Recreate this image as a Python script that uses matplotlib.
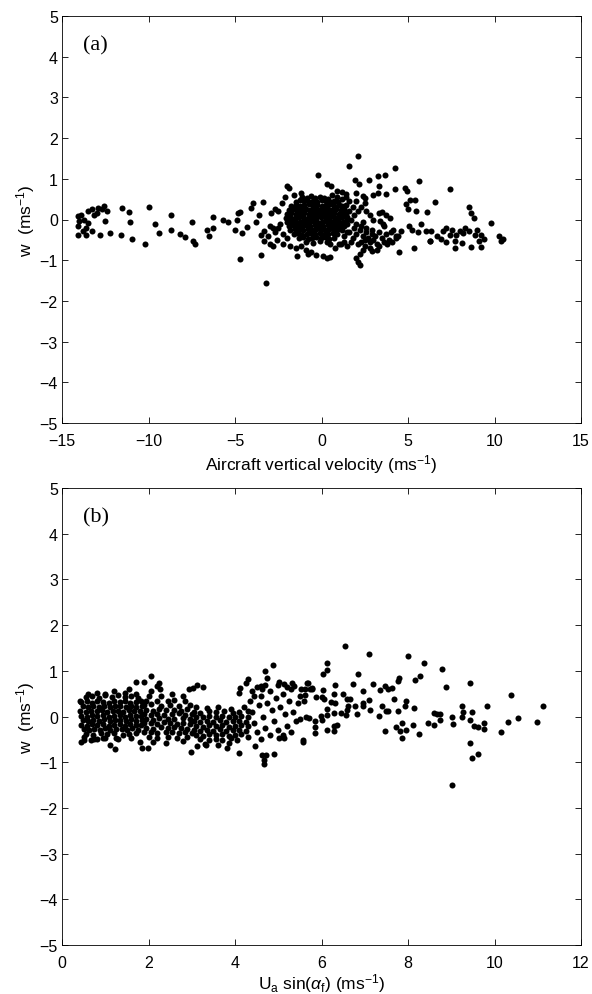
import numpy as np
import matplotlib
matplotlib.use('Agg')
import matplotlib.pyplot as plt

# ---------- panel (a): w vs aircraft vertical velocity ----------
# left tail and scattered points west of the core
a_left = [
    (-14.1, 0.08), (-14.0, -0.04), (-13.9, 0.12), (-14.1, -0.16), (-13.8, -0.29),
    (-13.6, -0.2), (-13.7, 0.0), (-13.5, 0.2), (-13.25, 0.25), (-13.15, 0.12),
    (-13.5, -0.08), (-14.1, -0.37), (-13.6, -0.37), (-13.25, -0.29), (-13.0, 0.16),
    (-12.9, 0.29), (-12.7, 0.25), (-12.6, 0.33), (-12.4, 0.2), (-12.5, -0.04),
    (-12.8, -0.37), (-12.2, -0.33), (-11.6, -0.37), (-11.55, 0.29), (-11.15, 0.19),
    (-11.05, -0.07), (-10.95, -0.47), (-10.2, -0.61), (-10.0, 0.3), (-9.6, -0.1),
    (-9.4, -0.34), (-8.7, 0.1), (-8.7, -0.27), (-8.2, -0.35), (-7.9, -0.43),
    (-7.5, -0.06), (-7.4, -0.53), (-7.3, -0.6), (-6.6, -0.27), (-6.5, -0.40),
    (-6.3, -0.2), (-6.3, 0.07), (-5.7, 0.0), (-5.4, -0.06), (-5.0, -0.25),
    (-4.9, -0.02), (-4.8, 0.16), (-4.7, 0.19), (-4.6, -0.34), (-4.3, -0.19),
    (-4.1, 0.29), (-3.95, 0.41), (-3.8, -0.06), (-3.6, 0.12), (-3.5, -0.37),
    (-3.5, -0.88), (-3.4, 0.42), (-3.3, -0.29), (-3.3, -0.53), (-4.7, -0.96),
    (-3.2, -1.57),
]

# dense core around zero
a_core = [
    (-1.1, 0.55), (-0.85, 0.53), (-0.6, 0.57), (-0.35, 0.54), (-0.1, 0.56), (0.15, 0.52), (0.4, 0.5),
    (-1.5, 0.44), (-1.25, 0.47), (-1.0, 0.45), (-0.75, 0.43), (-0.5, 0.46), (-0.25, 0.44),
    (0.0, 0.47), (0.25, 0.45), (0.5, 0.43), (0.75, 0.46), (0.95, 0.42),
    (-1.75, 0.34), (-1.5, 0.36), (-1.25, 0.33), (-1.0, 0.35), (-0.75, 0.37), (-0.5, 0.34),
    (-0.25, 0.36), (0.0, 0.33), (0.25, 0.35), (0.5, 0.37), (0.75, 0.34), (1.0, 0.36), (1.2, 0.32),
    (-1.9, 0.24), (-1.65, 0.26), (-1.4, 0.23), (-1.15, 0.25), (-0.9, 0.27), (-0.65, 0.24),
    (-0.4, 0.26), (-0.15, 0.23), (0.1, 0.25), (0.35, 0.27), (0.6, 0.24), (0.85, 0.26),
    (1.1, 0.23), (1.3, 0.25),
    (-2.0, 0.14), (-1.75, 0.16), (-1.5, 0.13), (-1.25, 0.15), (-1.0, 0.17), (-0.75, 0.14),
    (-0.5, 0.16), (-0.25, 0.13), (0.0, 0.15), (0.25, 0.17), (0.5, 0.14), (0.75, 0.16),
    (1.0, 0.13), (1.25, 0.15), (1.4, 0.17),
    (-2.05, 0.04), (-1.8, 0.06), (-1.55, 0.03), (-1.3, 0.05), (-1.05, 0.07), (-0.8, 0.04),
    (-0.55, 0.06), (-0.3, 0.03), (-0.05, 0.05), (0.2, 0.07), (0.45, 0.04), (0.7, 0.06),
    (0.95, 0.03), (1.2, 0.05), (1.45, 0.07),
    (-2.0, -0.06), (-1.75, -0.04), (-1.5, -0.07), (-1.25, -0.05), (-1.0, -0.03), (-0.75, -0.06),
    (-0.5, -0.04), (-0.25, -0.07), (0.0, -0.05), (0.25, -0.03), (0.5, -0.06), (0.75, -0.04),
    (1.0, -0.07), (1.25, -0.05), (1.4, -0.03),
    (-1.9, -0.16), (-1.65, -0.14), (-1.4, -0.17), (-1.15, -0.15), (-0.9, -0.13), (-0.65, -0.16),
    (-0.4, -0.14), (-0.15, -0.17), (0.1, -0.15), (0.35, -0.13), (0.6, -0.16), (0.85, -0.14),
    (1.1, -0.17), (1.3, -0.15),
    (-1.8, -0.26), (-1.55, -0.24), (-1.3, -0.27), (-1.05, -0.25), (-0.8, -0.23), (-0.55, -0.26),
    (-0.3, -0.24), (-0.05, -0.27), (0.2, -0.25), (0.45, -0.23), (0.7, -0.26), (0.95, -0.24),
    (1.2, -0.27),
    (-1.6, -0.36), (-1.35, -0.34), (-1.1, -0.37), (-0.85, -0.35), (-0.6, -0.33), (-0.35, -0.36),
    (-0.1, -0.34), (0.15, -0.37), (0.4, -0.35), (0.65, -0.33), (0.9, -0.36),
    (-1.3, -0.46), (-1.05, -0.44), (-0.8, -0.47), (-0.55, -0.45), (-0.3, -0.43), (-0.05, -0.46),
    (0.2, -0.44), (0.45, -0.47), (0.7, -0.45),
    (-0.9, -0.55), (-0.5, -0.57), (-0.1, -0.54), (0.3, -0.56),
]

# ragged edge of the core
a_edge = [
    (-2.3, 0.4), (-2.1, 0.55), (-1.9, 0.78), (-2.5, 0.2), (-2.4, -0.1), (-2.7, -0.3),
    (-2.6, -0.5), (-2.2, -0.6), (-1.8, -0.65), (-1.5, -0.7), (-1.2, -0.65), (-0.9, -0.75),
    (-0.6, -0.8), (-0.3, -0.88), (0.1, -0.9), (0.5, -0.92), (0.8, -0.7), (1.0, -0.6),
    (-1.4, -0.9), (-0.8, -0.85), (0.3, -0.95), (0.5, -0.6), (-3.0, -0.15), (-2.9, 0.15),
    (-2.8, -0.2), (-2.7, 0.25), (-3.1, -0.4), (-3.0, -0.6), (-2.8, -0.65), (-2.5, -0.2),
    (-2.2, -0.35), (-2.0, -0.45), (-1.6, 0.6), (-1.2, 0.65), (0.6, 0.6), (0.9, 0.55),
    (1.2, 0.5), (1.4, 0.35), (1.6, 0.2), (1.5, -0.3), (1.3, -0.4), (-0.22, 1.1),
    (-1.97, 0.82), (0.33, 0.86), (0.55, 0.82), (0.88, 0.7), (1.2, 0.68), (1.42, 0.63),
]

# secondary cluster and right tail
a_right = [
    (1.6, -0.3), (1.8, -0.45), (2.0, -0.35), (2.2, -0.25), (2.4, -0.4), (2.5, -0.5),
    (2.6, -0.3), (2.7, -0.45), (2.8, -0.55), (2.9, -0.35), (3.0, -0.5), (3.1, -0.4),
    (3.2, -0.6), (2.3, -0.55), (2.1, -0.6), (1.9, -0.2), (2.0, -0.1), (2.3, -0.15),
    (2.6, -0.2), (2.9, -0.25), (3.3, -0.3), (3.5, -0.45), (3.7, -0.35), (3.6, -0.55),
    (3.9, -0.5), (2.5, -0.65), (2.8, -0.7), (3.3, -0.65), (1.7, -0.55), (1.5, -0.65),
    (1.3, -0.55), (1.1, -0.6), (2.2, -0.85), (2.0, -0.95), (2.1, -1.05), (2.2, -1.13),
    (2.4, -0.75), (2.9, -0.78), (3.2, -0.75), (3.8, -0.6), (4.1, -0.55), (4.3, -0.45),
    (1.5, -0.1), (1.7, 0.0), (1.9, 0.1), (2.1, 0.2), (2.3, 0.3), (2.5, 0.4), (2.6, 0.2),
    (2.8, 0.1), (3.0, 0.0), (2.4, -0.05), (1.8, 0.3), (1.6, 0.45), (1.4, 0.55), (2.0, 0.45),
    (3.6, -0.15), (3.3, 0.15), (4.0, -0.3), (4.4, -0.4),
    (2.12, 1.56), (1.58, 1.31), (4.27, 1.27), (3.28, 1.07), (3.67, 1.1), (2.73, 0.98),
    (1.93, 0.97), (2.19, 0.88), (5.62, 0.94), (7.4, 0.75), (4.81, 0.78), (4.92, 0.71),
    (4.27, 0.74), (3.35, 0.82), (3.72, 0.63), (2.95, 0.61), (3.24, 0.66), (1.97, 0.66),
    (2.4, 0.57), (2.5, 0.53), (5.14, 0.49), (5.43, 0.47), (6.56, 0.43), (4.88, 0.37),
    (4.99, 0.25), (5.47, 0.2), (6.08, 0.19), (8.53, 0.3), (8.64, 0.15), (8.8, 0.04),
    (9.8, -0.08), (3.5, 0.18), (3.72, 0.12), (3.94, 0.04), (3.39, -0.04), (3.54, -0.11),
    (4.16, -0.25), (4.6, -0.29), (4.33, -0.41), (5.03, -0.16), (5.25, -0.27), (5.58, -0.31),
    (5.75, -0.12), (6.02, -0.29), (6.35, -0.29), (6.67, -0.41), (6.3, -0.52), (7.0, -0.29),
    (7.2, -0.2), (7.4, -0.37), (7.55, -0.27), (7.77, -0.37), (7.99, -0.29), (8.2, -0.34),
    (8.3, -0.2), (8.53, -0.29), (8.86, -0.37), (9.0, -0.27), (9.2, -0.37), (9.37, -0.49),
    (9.08, -0.53), (10.28, -0.41), (10.5, -0.47), (10.39, -0.52), (7.72, -0.53),
    (7.72, -0.71), (8.14, -0.57), (8.64, -0.68), (9.23, -0.68), (5.36, -0.71), (4.49, -0.8),
    (6.28, -0.53), (6.89, -0.49), (7.22, -0.55),
]

# ---------- panel (b): w vs U_a sin(alpha_f) ----------
b_core = [
    (0.55, 0.42), (0.7, 0.45), (0.85, 0.41), (1.0, 0.46), (1.15, 0.43), (1.3, 0.47),
    (1.45, 0.42), (1.6, 0.44), (1.75, 0.4),
    (0.45, 0.31), (0.58, 0.33), (0.7, 0.3), (0.82, 0.34), (0.95, 0.32), (1.08, 0.3),
    (1.2, 0.33), (1.33, 0.31), (1.45, 0.34), (1.58, 0.3), (1.7, 0.32), (1.82, 0.33),
    (0.48, 0.22), (0.6, 0.2), (0.72, 0.23), (0.85, 0.21), (0.97, 0.24), (1.1, 0.2),
    (1.22, 0.22), (1.35, 0.23), (1.47, 0.2), (1.6, 0.24), (1.72, 0.21), (1.85, 0.22),
    (0.42, 0.12), (0.55, 0.1), (0.67, 0.13), (0.8, 0.11), (0.92, 0.14), (1.05, 0.1),
    (1.17, 0.12), (1.3, 0.13), (1.42, 0.1), (1.55, 0.14), (1.67, 0.11), (1.8, 0.12),
    (0.45, 0.02), (0.58, 0.0), (0.7, 0.03), (0.82, 0.01), (0.95, 0.04), (1.08, 0.0),
    (1.2, 0.02), (1.33, 0.03), (1.45, 0.0), (1.58, 0.04), (1.7, 0.01), (1.82, 0.02),
    (0.48, -0.08), (0.6, -0.1), (0.72, -0.07), (0.85, -0.09), (0.97, -0.06), (1.1, -0.1),
    (1.22, -0.08), (1.35, -0.07), (1.47, -0.1), (1.6, -0.06), (1.72, -0.09), (1.85, -0.08),
    (0.45, -0.18), (0.58, -0.2), (0.7, -0.17), (0.82, -0.19), (0.95, -0.16), (1.08, -0.2),
    (1.2, -0.18), (1.33, -0.17), (1.45, -0.2), (1.58, -0.16), (1.7, -0.19), (1.82, -0.18),
    (0.5, -0.28), (0.62, -0.3), (0.75, -0.27), (0.88, -0.29), (1.0, -0.26), (1.12, -0.3),
    (1.25, -0.28), (1.38, -0.27), (1.5, -0.3), (1.62, -0.26), (1.75, -0.29),
    (0.55, -0.38), (0.72, -0.4), (0.9, -0.37), (1.05, -0.39), (1.2, -0.36), (1.4, -0.4),
    (1.55, -0.38), (1.7, -0.37),
    (0.6, 0.5), (0.8, 0.52), (1.0, 0.5), (1.2, 0.55), (1.45, 0.52), (1.7, 0.5), (2.0, 0.45),
    (2.3, 0.45), (2.55, 0.5), (2.8, 0.45), (1.55, 0.6), (2.05, 0.55),
    (0.5, -0.45), (0.75, -0.5), (1.0, -0.48), (1.3, -0.5), (1.6, -0.48), (1.8, -0.55),
    (0.45, -0.55), (0.42, 0.34),
]

b_mid = [
    (1.95, 0.35), (2.2, 0.35), (2.45, 0.33), (2.6, 0.37), (2.85, 0.34),
    (1.9, 0.25), (2.05, 0.27), (2.3, 0.24), (2.5, 0.26), (2.7, 0.23), (2.95, 0.25),
    (1.95, 0.15), (2.1, 0.13), (2.25, 0.16), (2.4, 0.14), (2.6, 0.15), (2.75, 0.12), (2.9, 0.16),
    (1.9, 0.05), (2.05, 0.04), (2.2, 0.06), (2.35, 0.03), (2.55, 0.05), (2.7, 0.07),
    (2.85, 0.04), (3.0, 0.06),
    (1.95, -0.05), (2.1, -0.07), (2.25, -0.04), (2.45, -0.06), (2.6, -0.05), (2.8, -0.03), (2.95, -0.06),
    (1.9, -0.15), (2.05, -0.14), (2.2, -0.16), (2.35, -0.13), (2.5, -0.15), (2.65, -0.17),
    (2.8, -0.14), (2.95, -0.16),
    (1.95, -0.25), (2.1, -0.27), (2.3, -0.24), (2.45, -0.26), (2.6, -0.23), (2.75, -0.25), (2.9, -0.27),
    (1.9, -0.35), (2.05, -0.34), (2.2, -0.36), (2.4, -0.33), (2.55, -0.35), (2.7, -0.37),
    (2.85, -0.34), (3.0, -0.36),
    (2.0, -0.45), (2.2, -0.47), (2.45, -0.44), (2.65, -0.46), (2.9, -0.45),
    (2.1, -0.55), (2.4, -0.57), (2.8, -0.54),
    (3.1, 0.2), (3.35, 0.18), (3.6, 0.21), (3.9, 0.17), (4.2, 0.2),
    (3.05, 0.1), (3.2, 0.08), (3.4, 0.11), (3.55, 0.09), (3.75, 0.12), (3.95, 0.08), (4.1, 0.1), (4.3, 0.11),
    (3.1, 0.0), (3.25, -0.02), (3.4, 0.01), (3.55, -0.01), (3.7, 0.02), (3.85, -0.02),
    (4.0, 0.0), (4.15, 0.01), (4.3, -0.01),
    (3.05, -0.1), (3.2, -0.12), (3.35, -0.09), (3.5, -0.11), (3.65, -0.08), (3.8, -0.12),
    (3.95, -0.1), (4.1, -0.09), (4.25, -0.11),
    (3.1, -0.2), (3.25, -0.22), (3.4, -0.19), (3.55, -0.21), (3.7, -0.18), (3.85, -0.22),
    (4.0, -0.2), (4.15, -0.19), (4.3, -0.21),
    (3.05, -0.3), (3.2, -0.32), (3.35, -0.29), (3.5, -0.31), (3.65, -0.28), (3.8, -0.32),
    (3.95, -0.3), (4.1, -0.29), (4.25, -0.31),
    (3.1, -0.4), (3.25, -0.42), (3.4, -0.39), (3.55, -0.41), (3.7, -0.38), (3.85, -0.42),
    (4.0, -0.4), (4.15, -0.39),
    (3.2, -0.5), (3.4, -0.52), (3.55, -0.49), (3.7, -0.51), (3.9, -0.48), (4.05, -0.52),
    (3.3, -0.6), (3.6, -0.62), (3.85, -0.59),
]

b_outer = [
    (4.35, 0.35), (4.4, 0.1), (4.45, -0.15), (4.5, -0.35), (4.55, 0.25), (4.6, 0.45),
    (4.65, 0.0), (4.7, -0.25), (4.75, 0.3), (4.8, 0.55), (4.85, 0.15), (4.9, -0.1),
    (4.95, 0.4), (5.0, -0.3), (5.05, 0.2), (5.1, 0.5), (5.15, 0.05), (5.2, -0.2),
    (5.25, 0.35), (5.3, 0.6), (5.35, 0.1), (5.4, -0.1), (5.45, 0.3), (5.5, 0.45),
    (4.4, 0.55), (4.5, 0.65), (4.3, -0.45), (4.6, -0.5), (4.8, -0.4), (5.1, -0.4),
    (5.3, -0.35), (5.5, -0.05), (4.45, 0.45), (4.7, 0.7), (5.0, 0.7), (5.2, 0.65),
    (4.88, 1.13), (4.7, 1.0), (4.73, 0.85), (2.05, 0.88), (4.29, 0.82), (4.25, 0.74),
    (4.12, 0.63), (2.25, 0.74), (2.19, 0.67), (2.26, 0.61), (3.13, 0.68), (3.27, 0.65),
    (3.02, 0.63), (2.94, 0.6), (1.9, 0.76), (1.71, 0.76), (5.02, 0.76), (5.13, 0.71),
    (5.32, 0.74), (5.36, 0.67), (5.67, 0.73), (5.79, 0.61), (5.52, 0.6), (4.59, 0.67),
    (4.63, 0.6), (4.09, 0.52),
    (4.63, -0.84), (4.71, -0.84), (4.67, -0.95), (4.68, -1.04), (4.9, -0.82), (4.09, -0.79),
    (5.58, -0.52), (4.46, -0.64), (5.02, -0.47), (5.13, -0.47), (2.98, -0.77), (3.13, -0.65),
    (3.32, -0.62), (3.82, -0.69), (1.86, -0.68), (1.99, -0.68), (1.22, -0.71), (1.11, -0.62),
    (0.52, -0.52), (0.67, -0.52), (1.24, -0.47), (0.95, -0.46), (0.81, -0.5),
]

b_right = [
    (6.54, 1.55), (7.09, 1.37), (7.99, 1.32), (8.38, 1.16), (8.78, 1.04), (6.13, 1.16),
    (6.12, 1.02), (6.03, 0.93), (6.84, 0.92), (9.43, 0.74), (8.89, 0.65), (10.39, 0.46),
    (11.11, 0.22), (10.54, -0.03), (10.98, -0.13), (10.32, -0.13), (10.15, -0.35),
    (9.82, 0.23), (9.75, -0.15), (9.75, -0.28), (9.62, -0.23), (9.53, -0.2), (9.48, 0.09),
    (9.44, -0.08), (9.25, 0.23), (9.28, 0.1), (9.26, -0.02), (9.43, -0.58), (9.49, -0.9),
    (9.63, -0.81), (9.02, -1.5), (9.02, 0.0), (9.03, -0.16), (8.75, 0.06), (8.75, -0.07),
    (8.67, 0.05), (8.59, 0.08), (8.59, -0.18), (8.46, -0.14), (8.27, 0.88), (8.17, 0.79),
    (8.15, 0.18), (8.26, -0.38), (8.12, -0.18), (7.95, 0.33), (7.92, 0.24), (7.8, 0.84),
    (7.77, 0.77), (7.78, 0.12), (7.85, -0.14), (7.96, -0.29), (7.82, -0.32), (7.85, -0.47),
    (7.72, -0.23), (7.67, 0.39), (7.62, 0.62), (7.54, 0.61), (7.47, 0.66), (7.36, 0.57),
    (7.53, 0.13), (7.48, 0.13), (7.39, 0.23), (7.47, -0.32), (7.32, 0.02), (7.18, 0.72),
    (7.12, 0.14), (7.1, 0.36), (6.96, 0.56), (6.95, 0.29), (6.95, 0.24), (6.83, 0.06),
    (6.78, 0.23), (6.73, 0.72), (6.65, 0.38), (6.59, 0.38), (6.61, 0.24), (6.59, 0.15),
    (6.57, 0.03), (6.5, 0.49), (6.44, 0.07), (6.32, 0.69), (6.28, 0.5), (6.31, 0.3),
    (6.28, 0.07), (6.35, -0.18), (6.28, -0.21), (6.28, -0.32), (6.13, -0.29), (6.13, 0.04),
    (6.12, 0.17), (6.05, 0.38), (6.21, 0.32), (6.04, 0.58), (5.88, 0.43), (6.0, 0.43),
    (5.99, 0.01), (6.02, -0.07), (5.86, -0.09), (5.86, -0.24), (5.86, -0.36), (5.68, 0.73),
    (5.63, 0.6), (5.79, 0.63), (5.73, 0.6), (5.63, 0.47), (5.59, 0.34), (5.65, -0.02),
    (5.71, -0.03), (5.58, -0.55),
]

plt.rcParams['font.family'] = ['Liberation Sans', 'DejaVu Sans']
plt.rcParams['mathtext.fontset'] = 'custom'
plt.rcParams['mathtext.rm'] = 'Liberation Sans'
plt.rcParams['mathtext.it'] = 'Liberation Sans:italic'

W, H = 592, 995
fig = plt.figure(figsize=(W / 100, H / 100), dpi=100)
ax_a = fig.add_axes([62 / W, (H - 424) / H, 519 / W, 407 / H])
ax_b = fig.add_axes([62 / W, (H - 946) / H, 519 / W, 457 / H])


def style(ax):
    ax.tick_params(direction='in', top=True, right=True, labelsize=11.5, length=4,
                   width=0.6, pad=3)
    ax.tick_params(axis='x', pad=7)
    for s in ax.spines.values():
        s.set_linewidth(0.6)
    ax.set_ylim(-5, 5)
    ax.set_yticks(range(-5, 6))
    ax.set_yticklabels([str(v).replace('-', '\u2212') for v in range(-5, 6)])


def dots(ax, groups):
    for g in groups:
        p = np.array(g)
        ax.scatter(p[:, 0], p[:, 1], s=19, c='black', linewidths=0)


dots(ax_a, [a_left, a_core, a_edge, a_right])
style(ax_a)
ax_a.set_xlim(-15, 15)
ax_a.set_xticks(range(-15, 16, 5))
ax_a.set_xticklabels([str(v).replace('-', '\u2212') for v in range(-15, 16, 5)])
ax_a.set_xlabel('Aircraft vertical velocity (ms$^{-1}$)', fontsize=12.5, labelpad=3)
ax_a.set_ylabel('w  (ms$^{-1}$)', fontsize=12.5, labelpad=2)
ax_a.text(0.04, 0.93, '(a)', transform=ax_a.transAxes, fontsize=16,
          family='Liberation Serif', va='center', ha='left')

dots(ax_b, [b_core, b_mid, b_outer, b_right])
style(ax_b)
ax_b.set_xlim(0, 12)
ax_b.set_xticks(range(0, 13, 2))
ax_b.set_xlabel(r'U$_\mathrm{a}$ sin($\alpha_\mathrm{f}$) (ms$^{-1}$)', fontsize=12.5, labelpad=1)
ax_b.set_ylabel('w  (ms$^{-1}$)', fontsize=12.5, labelpad=2)
ax_b.text(0.04, 0.937, '(b)', transform=ax_b.transAxes, fontsize=16,
          family='Liberation Serif', va='center', ha='left')

fig.savefig('out.png', dpi=100)
plt.close(fig)
